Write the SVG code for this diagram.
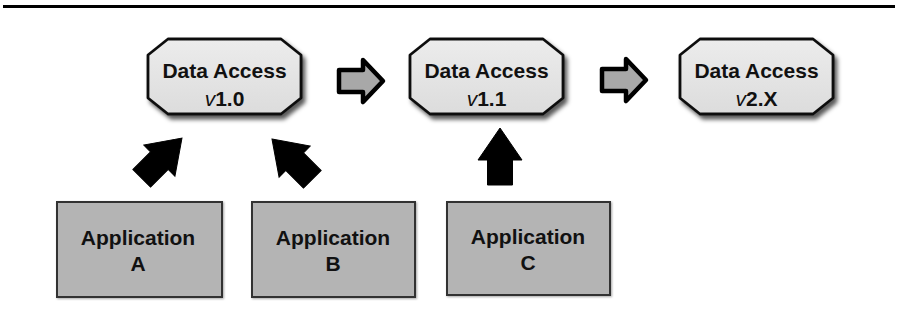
<svg xmlns="http://www.w3.org/2000/svg" width="897" height="321" viewBox="0 0 897 321">
<defs>
  <filter id="shadow" x="-10%" y="-10%" width="130%" height="140%">
    <feDropShadow dx="3" dy="4" stdDeviation="2" flood-color="#000" flood-opacity="0.65"/>
  </filter>
  <filter id="shadowS" x="-5%" y="-5%" width="115%" height="115%">
    <feDropShadow dx="1" dy="1" stdDeviation="1" flood-color="#000" flood-opacity="0.35"/>
  </filter>
  <linearGradient id="octFill" x1="0" y1="0" x2="0" y2="1">
    <stop offset="0" stop-color="#ececec"/>
    <stop offset="1" stop-color="#dcdcdc"/>
  </linearGradient>
  <polygon id="oct" points="20,0 133,0 153,16 153,59 133,75 20,75 0,59 0,16"/>
  <polygon id="hollow" points="0,-11 24,-11 24,-21 44,0 24,21 24,11 0,11"/>
  <polygon id="solid" points="0,0 22,32 12.5,32 12.5,57 -12.5,57 -12.5,32 -22,32"/>
</defs>
<style>
  .oct { fill: url(#octFill); stroke: #111; stroke-width: 2.8; stroke-linejoin: round; }
  .app { fill: #b4b4b4; stroke: #333; stroke-width: 2; }
  .hollow { fill: #a8a8a8; stroke: #000; stroke-width: 4.5; stroke-linejoin: round; }
  .solid { fill: #000; stroke: #000; stroke-width: 1; }
  .t { font-family: "Liberation Sans", Arial, sans-serif; font-weight: bold; font-size: 21px; fill: #111; text-anchor: middle; }
  .it { font-style: italic; font-weight: normal; }
</style>
<rect x="3" y="5" width="892" height="3" fill="#000"/>

<g id="da10">
  <use href="#oct" x="148" y="39" class="oct" filter="url(#shadow)"/>
  <text class="t" x="224.5" y="78">Data Access</text>
  <text class="t" x="224.5" y="106"><tspan class="it">v</tspan>1.0</text>
</g>
<g id="da11">
  <use href="#oct" x="410" y="39" class="oct" filter="url(#shadow)"/>
  <text class="t" x="486.5" y="78">Data Access</text>
  <text class="t" x="486.5" y="106"><tspan class="it">v</tspan>1.1</text>
</g>
<g id="da2x">
  <use href="#oct" x="680" y="39" class="oct" filter="url(#shadow)"/>
  <text class="t" x="756.5" y="78">Data Access</text>
  <text class="t" x="756.5" y="106"><tspan class="it">v</tspan>2.X</text>
</g>

<g id="appA">
  <rect class="app" x="57" y="202" width="165" height="95" filter="url(#shadowS)"/>
  <text class="t" x="138" y="245">Application</text>
  <text class="t" x="138" y="271">A</text>
</g>
<g id="appB">
  <rect class="app" x="252" y="202" width="163" height="95" filter="url(#shadowS)"/>
  <text class="t" x="333" y="245">Application</text>
  <text class="t" x="333" y="271">B</text>
</g>
<g id="appC">
  <rect class="app" x="447" y="202" width="163" height="93" filter="url(#shadowS)"/>
  <text class="t" x="528" y="244">Application</text>
  <text class="t" x="528" y="270">C</text>
</g>

<g id="connectors">
  <use href="#hollow" class="hollow" transform="translate(339,81)"/>
  <use href="#hollow" class="hollow" transform="translate(602,80)"/>
  <use href="#solid" class="solid" transform="translate(182,138) rotate(45)"/>
  <use href="#solid" class="solid" transform="translate(272,139) rotate(-45)"/>
  <use href="#solid" class="solid" transform="translate(500,128)"/>
</g>
</svg>
